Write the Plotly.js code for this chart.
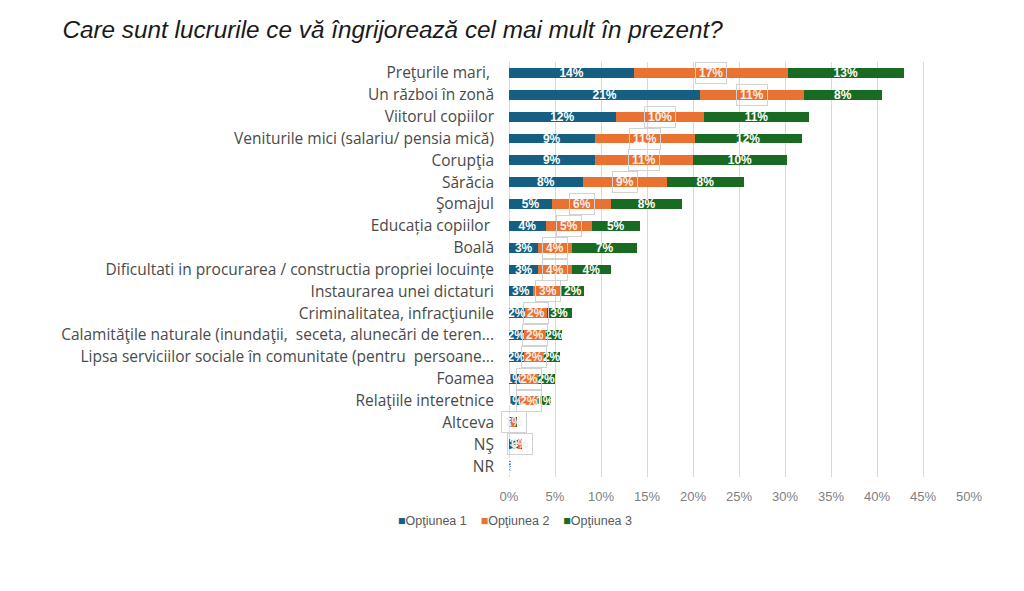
<!DOCTYPE html>
<html>
<head>
<meta charset="utf-8">
<script src="https://cdn.plot.ly/plotly-3.0.1.min.js"></script>
<style>
  html, body { margin: 0; padding: 0; background: #fff; }
  #chart { width: 1024px; height: 591px; }
</style>
</head>
<body>
<div id="chart"></div>
<script>
// categories, top to bottom
var categories = [
    'Preţurile mari, ',
    'Un război în zonă',
    'Viitorul copiilor',
    'Veniturile mici (salariu/ pensia mică)',
    'Corupţia',
    'Sărăcia',
    'Şomajul',
    'Educația copiilor ',
    'Boală',
    'Dificultati in procurarea / constructia propriei locuințe',
    'Instaurarea unei dictaturi',
    'Criminalitatea, infracţiunile',
    'Calamităţile naturale (inundaţii,  seceta, alunecări de teren...',
    'Lipsa serviciilor sociale în comunitate (pentru  persoane...',
    'Foamea',
    'Relaţiile interetnice',
    'Altceva',
    'NŞ',
    'NR'
];

var seriesNames = ['Opţiunea 1', 'Opţiunea 2', 'Opţiunea 3'];

// percentages
var optiunea1 = [13.6, 20.8, 11.6, 9.3, 9.3, 8.0, 4.7, 4.0, 3.2, 3.2, 2.6, 1.7, 1.6, 1.6, 1.2, 1.2, 0.2, 1.0, 0.2];
var optiunea2 = [16.7, 11.3, 9.6, 10.9, 10.7, 9.2, 6.4, 5.0, 3.7, 3.6, 3.2, 2.4, 2.4, 2.2, 1.9, 2.0, 0.6, 0.3, 0.0];
var optiunea3 = [12.6, 8.4, 11.4, 11.6, 10.2, 8.3, 7.7, 5.2, 7.0, 4.3, 2.3, 2.7, 1.8, 1.7, 1.9, 1.4, 0.1, 0.1, 0.0];

var xTicks = [0, 5, 10, 15, 20, 25, 30, 35, 40, 45, 50];

var colors = ['#156082', '#E97132', '#196B24'];

var labelFont = 'Liberation Sans, Arial, sans-serif';

function pctLabels(values) {
    return values.map(function (v) {
        return v >= 0.15 ? Math.round(v) + '%' : '';
    });
}

function makeTrace(values, name, color, showText) {
    return {
        type: 'bar',
        orientation: 'h',
        x: values,
        y: categories,
        name: name,
        marker: { color: color },
        text: showText ? pctLabels(values) : null,
        textposition: showText ? 'inside' : 'none',
        insidetextanchor: 'middle',
        textfont: { color: '#ffffff', size: 12, family: labelFont, weight: 'bold' },
        hoverinfo: 'x+y+name'
    };
}

var data = [
    makeTrace(optiunea1, seriesNames[0], colors[0], true),
    makeTrace(optiunea2, seriesNames[1], colors[1], false),
    makeTrace(optiunea3, seriesNames[2], colors[2], true)
];

// orange labels sit in a thin grey box
var annotations = [];
for (var i = 0; i < categories.length; i++) {
    if (optiunea2[i] < 0.15) continue;
    annotations.push({
        x: optiunea1[i] + optiunea2[i] / 2,
        y: categories[i],
        xref: 'x',
        yref: 'y',
        text: Math.round(optiunea2[i]) + '%',
        showarrow: false,
        font: { color: '#f6eee9', size: 12, family: labelFont, weight: 'bold' },
        bordercolor: '#d2d2d2',
        borderwidth: 1,
        borderpad: 3
    });
}

// compact legend like the original, one line of text below the axis
var legendText = seriesNames.map(function (n, k) {
    return '<span style="color:' + colors[k] + '">■</span>' + n;
}).join('&nbsp;&nbsp;&nbsp;&nbsp;');
annotations.push({
    xref: 'paper',
    yref: 'paper',
    x: (396 - 509) / 460,
    y: (477 - 521) / 415,
    xanchor: 'left',
    yanchor: 'middle',
    text: legendText,
    showarrow: false,
    font: { family: labelFont, size: 12.5, color: '#595959' }
});

var layout = {
    width: 1024,
    height: 591,
    barmode: 'stack',
    bargap: 0.55,
    paper_bgcolor: '#ffffff',
    plot_bgcolor: '#ffffff',
    margin: { l: 509, r: 55, t: 62, b: 114 },
    font: { family: 'Open Sans, sans-serif', color: '#404040' },
    title: {
        text: 'Care sunt lucrurile ce vă îngrijorează cel mai mult în prezent?',
        xref: 'container',
        yref: 'container',
        x: 0.061,
        xanchor: 'left',
        y: 0.95,
        yanchor: 'middle',
        font: { family: 'Liberation Sans, Arial, sans-serif', size: 24.3, color: '#1a1a1a', style: 'italic' }
    },
    xaxis: {
        range: [0, 50],
        tickvals: xTicks,
        ticktext: xTicks.map(function (t) { return t + '%'; }),
        showgrid: true,
        gridcolor: '#d9d9d9',
        gridwidth: 1,
        zeroline: true,
        zerolinecolor: '#d9d9d9',
        showline: false,
        ticks: '',
        ticklabelstandoff: 10,
        tickfont: { family: labelFont, size: 13, color: '#808080' },
        fixedrange: true
    },
    yaxis: {
        type: 'category',
        autorange: 'reversed',
        showgrid: false,
        zeroline: false,
        showline: false,
        ticks: '',
        ticklabelstandoff: 14,
        tickfont: { family: 'Open Sans, sans-serif', size: 15.5, color: '#4a4a4a' },
        fixedrange: true
    },
    showlegend: false,
    uniformtext: { mode: 'show', minsize: 11 },
    annotations: annotations
};

Plotly.newPlot('chart', data, layout, { displayModeBar: false, staticPlot: true });
</script>
</body>
</html>
